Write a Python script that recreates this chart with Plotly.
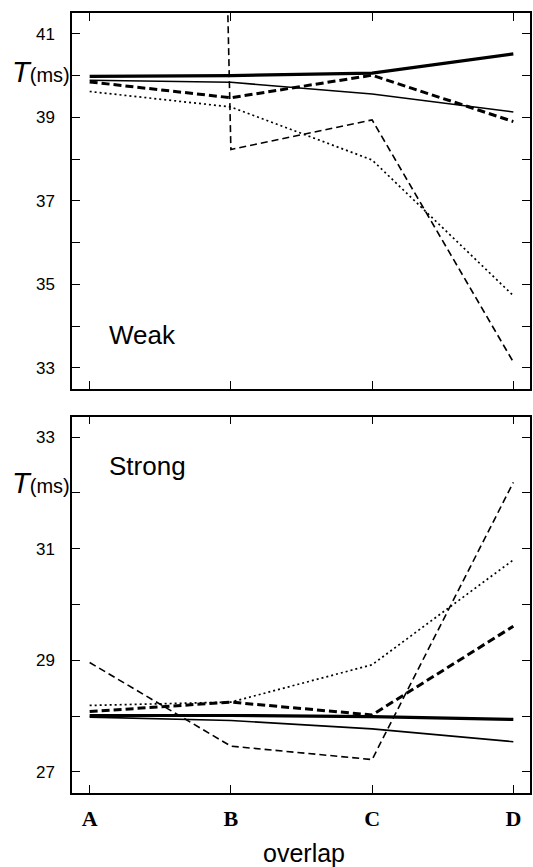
import plotly.graph_objects as go
from plotly.subplots import make_subplots

categories = ["A", "B", "C", "D"]
x_pos = [0, 1, 2, 3]

# Weak coupling panel
weak_thick_solid = [39.98, 40.00, 40.06, 40.52]
weak_thin_solid = [39.89, 39.84, 39.56, 39.13]
weak_thick_dash = [39.85, 39.47, 40.01, 38.90]
weak_dotted = [39.62, 39.25, 37.98, 34.73]
weak_thin_dash = [190.0, 38.23, 38.94, 33.14]

# Strong coupling panel
strong_thick_solid = [28.01, 28.01, 27.99, 27.94]
strong_thin_solid = [27.98, 27.92, 27.77, 27.54]
strong_thick_dash = [28.08, 28.25, 28.02, 29.61]
strong_dotted = [28.19, 28.25, 28.92, 30.80]
strong_thin_dash = [28.96, 27.46, 27.22, 32.19]

styles = [
    dict(width=3.2, dash="solid"),
    dict(width=1.6, dash="solid"),
    dict(width=3.0, dash="8px,4px"),
    dict(width=1.7, dash="2px,3px"),
    dict(width=1.6, dash="7px,4px"),
]

fig = make_subplots(rows=2, cols=1, vertical_spacing=0.0351)

weak = [weak_thick_solid, weak_thin_solid, weak_thick_dash, weak_dotted, weak_thin_dash]
strong = [strong_thick_solid, strong_thin_solid, strong_thick_dash, strong_dotted, strong_thin_dash]

for row, group in ((1, weak), (2, strong)):
    for vals, st in zip(group, styles):
        fig.add_trace(
            go.Scatter(x=x_pos, y=vals, mode="lines",
                       line=dict(color="black", width=st["width"], dash=st["dash"]),
                       showlegend=False, hoverinfo="skip"),
            row=row, col=1)

axis_common = dict(
    showline=True, linecolor="black", linewidth=1.5, mirror="ticks",
    ticks="inside", ticklen=8, tickwidth=1.3, tickcolor="black",
    showgrid=False, zeroline=False,
)

bold_labels = ["<b>%s</b>" % c for c in categories]
fig.update_xaxes(range=[-0.125, 3.118], tickvals=x_pos, ticktext=bold_labels, **axis_common)
fig.update_xaxes(showticklabels=False, row=1, col=1)
fig.update_xaxes(tickfont=dict(family="Liberation Serif", size=22, color="black"),
                 ticklabelstandoff=5, row=2, col=1)

yfont = dict(family="Liberation Sans", size=17, color="black")
fig.update_yaxes(range=[32.49, 41.5], tickvals=[33, 35, 37, 39, 41], tickfont=yfont,
                 ticklabelstandoff=12,
                 minor=dict(tickvals=[34, 36, 38, 40], ticks="inside", ticklen=8,
                            tickwidth=1.3, tickcolor="black"),
                 row=1, col=1, **axis_common)
fig.update_yaxes(range=[26.62, 33.37], tickvals=[27, 29, 31, 33], tickfont=yfont,
                 ticklabelstandoff=12,
                 minor=dict(tickvals=[28, 30, 32], ticks="inside", ticklen=8,
                            tickwidth=1.3, tickcolor="black"),
                 row=2, col=1, **axis_common)

fig.update_layout(
    width=533, height=867,
    margin=dict(l=72, r=1, t=13, b=74),
    paper_bgcolor="white", plot_bgcolor="white",
)
fig.update_yaxes(domain=[0.5177, 1.0], row=1, col=1)
fig.update_yaxes(domain=[0.0, 0.4826], row=2, col=1)

tlabel = "<i>T</i><span style='font-size:20px'>(ms)</span>"
fig.add_annotation(text=tlabel, xref="paper", yref="y", x=-0.135, y=40.09,
                   xanchor="left", yanchor="middle", showarrow=False,
                   font=dict(family="Liberation Sans", size=29, color="black"))
fig.add_annotation(text=tlabel, xref="paper", yref="y2", x=-0.135, y=32.18,
                   xanchor="left", yanchor="middle", showarrow=False,
                   font=dict(family="Liberation Sans", size=29, color="black"))
fig.add_annotation(text="Weak", xref="x", yref="y", x=0.12, y=33.79,
                   xanchor="left", yanchor="middle", showarrow=False,
                   font=dict(family="Liberation Sans", size=26, color="black"))
fig.add_annotation(text="Strong", xref="x2", yref="y2", x=0.12, y=32.49,
                   xanchor="left", yanchor="middle", showarrow=False,
                   font=dict(family="Liberation Sans", size=26, color="black"))
fig.add_annotation(text="overlap", xref="paper", yref="paper", x=0.5065, y=-0.077,
                   xanchor="center", yanchor="middle", showarrow=False,
                   font=dict(family="Liberation Sans", size=25, color="black"))

fig.write_html("out.html")
